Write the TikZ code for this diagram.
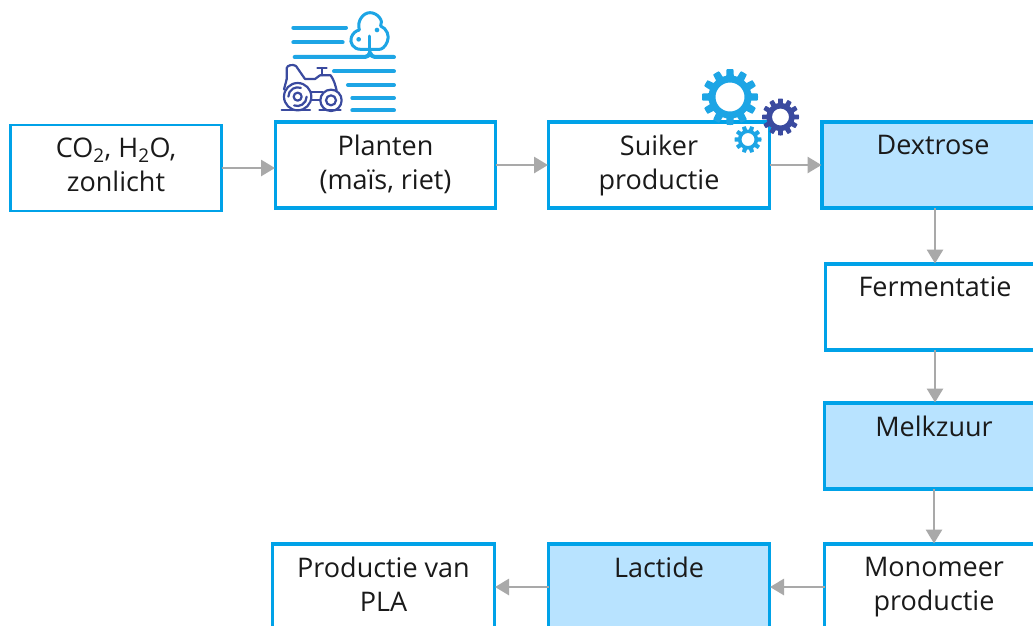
\documentclass[tikz,border=0pt]{standalone}
\usepackage{fontspec}
\setmainfont{Open Sans}
\usetikzlibrary{arrows.meta}
\definecolor{boxblue}{HTML}{00A2E8}
\definecolor{fillblue}{HTML}{B8E3FF}
\definecolor{arrgray}{HTML}{A9A9A9}
\definecolor{icondark}{HTML}{3A4A9F}
\definecolor{iconlight}{HTML}{1DA5E5}
\definecolor{txt}{HTML}{1A1A1A}
\newcommand{\boxtext}[3]{\parbox[c][#1pt][t]{#2pt}{\centering\vspace{13pt}\fontsize{27}{34}\selectfont\color{txt}#3\par}}
\newcommand{\gearshape}[7]{%
  \fill[#7,even odd rule] plot[smooth cycle,samples=288,domain=0:359] ({#1+(#4+(#3-#4)*max(0,min(1,0.85+1.7*cos(#6*\x))))*cos(\x)},{#2+(#4+(#3-#4)*max(0,min(1,0.85+1.7*cos(#6*\x))))*sin(\x)}) (#1,#2) circle[radius=#5];}
\tikzset{
  flow/.style={draw=boxblue,line width=3.4pt,fill=white,inner sep=0pt,outer sep=0pt,rectangle},
  flowthin/.style={flow,line width=2.4pt},
  product/.style={flow,fill=fillblue},
  link/.style={draw=arrgray,line width=2.8pt,-{Triangle[length=14pt,width=16pt,fill=arrgray]},shorten >=0.5pt},
  iconline/.style={draw=iconlight,line width=4pt,line cap=round,line join=round},
  tractorline/.style={draw=icondark,line width=2.2pt,line cap=round,line join=round},
  treeline/.style={draw=iconlight,line width=3pt,line cap=round,line join=round}
}
\begin{document}
\begin{tikzpicture}[x=1pt,y=-1pt]
\useasboundingbox (0,0) rectangle (1033,625);
\clip (0,0) rectangle (1033,625);
\fill[white] (0,0) rectangle (1033,625);
% boxes
\node[flowthin] (co2) at (116,168) {\boxtext{86}{211}{CO\textsubscript{2}, H\textsubscript{2}O,\\zonlicht}};
\node[flow] (plant) at (385.5,165) {\boxtext{86}{220}{Planten\\(maïs, riet)}};
\node[flow] (sugar) at (659,165) {\boxtext{86}{221}{Suiker\\productie}};
\node[product] (dex) at (933,165) {\boxtext{86}{222}{Dextrose}};
\node[flow] (ferm) at (935,307) {\boxtext{86}{219}{Fermentatie}};
\node[product] (melk) at (934,446) {\boxtext{86}{219}{Melkzuur}};
\node[flow] (mono) at (934,587) {\boxtext{86}{219}{Monomeer\\productie}};
\node[product] (lact) at (659,587) {\boxtext{86}{221}{Lactide}};
\node[flow] (pla) at (383.5,587) {\boxtext{86}{222}{Productie van\\PLA}};
% connectors
\draw[link] (co2.east) -- (plant.west|-co2.east);
\draw[link] (plant.east) -- (sugar.west);
\draw[link] (sugar.east) -- (dex.west);
\draw[link] (dex.south-|ferm.north) -- (ferm.north);
\draw[link] (ferm.south) -- (melk.north-|ferm.south);
\draw[link] (melk.south) -- (mono.north);
\draw[link] (mono.west) -- (lact.east);
\draw[link] (lact.west) -- (pla.east);
% farm icon
\begin{scope}[shift={(270,0)},x=0.3333pt,y=-0.3333pt]
\draw[iconline] (70,83) -- (228,83);
\draw[iconline] (70,127) -- (218,127);
\draw[iconline] (74,171) -- (285,171) .. controls (293,171) and (298,165) .. (300,158) .. controls (302,165) and (307,171) .. (315,171) -- (372,171);
\draw[iconline] (192,214) -- (372,214);
\draw[iconline] (234,255) -- (372,255);
\draw[iconline] (247,294) -- (372,294);
\draw[iconline] (247,331) -- (372,331);
\draw[treeline] (300,158) -- (300,108);
\draw[treeline] (272,148) .. controls (250,148) and (238,128) .. (244,112) .. controls (248,100) and (258,92) .. (268,90) .. controls (260,62) and (280,38) .. (300,38) .. controls (322,38) and (342,62) .. (332,78) .. controls (350,85) and (360,108) .. (352,125) .. controls (345,142) and (335,148) .. (328,148) -- (272,148);
\fill[iconlight] (266,118) circle[radius=7];
\fill[iconlight] (321,90) circle[radius=7];
\draw[tractorline] (50,238) -- (50,205) .. controls (50,195) and (70,192) .. (78,198) -- (105,237) -- (135,237) -- (150,226) -- (182,226) .. controls (192,240) and (196,255) .. (200,272);
\draw[tractorline] (50,238) -- (42,268);
\draw[tractorline] (155,226) -- (155,204) (142,204) -- (170,204);
\draw[tractorline] (83,290) circle[radius=41];
\draw[tractorline] (55,290) arc[start angle=180,end angle=290,radius=28];
\draw[tractorline] (110,290) arc[start angle=0,end angle=110,radius=28];
\draw[tractorline] (83,290) circle[radius=12];
\draw[tractorline] (183,301) circle[radius=32];
\draw[tractorline] (183,301) circle[radius=15];
\draw[tractorline] (122,276) -- (158,276) (125,300) -- (150,300);
\draw[tractorline] (35,331) -- (120,331) (148,331) -- (212,331);
\end{scope}
% gears
\gearshape{730}{97}{28}{21.5}{14.5}{12}{iconlight}
\gearshape{780.5}{117}{18.5}{14}{8.5}{12}{icondark}
\gearshape{748}{139.5}{13.5}{10}{6.5}{10}{iconlight}
\end{tikzpicture}
\end{document}
